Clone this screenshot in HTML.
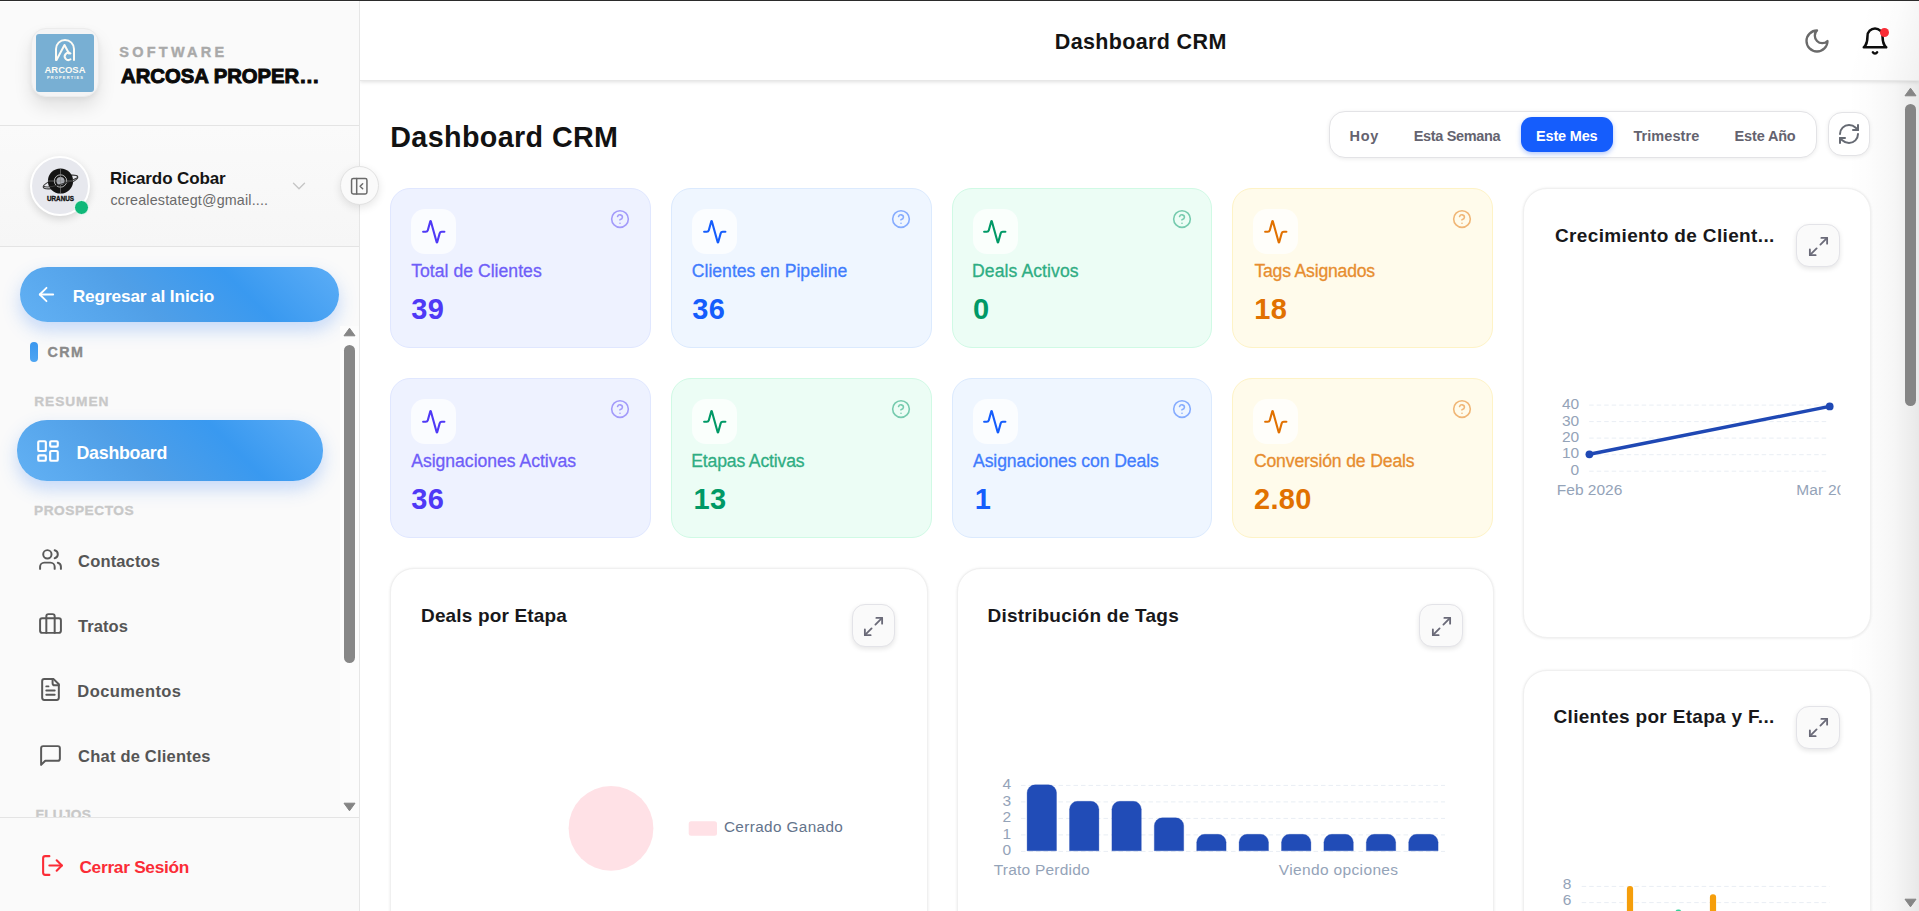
<!DOCTYPE html>
<html lang="es">
<head>
<meta charset="utf-8">
<title>Dashboard CRM</title>
<style>
*{box-sizing:border-box;margin:0;padding:0}
html,body{width:1919px;height:911px;overflow:hidden;background:#fff;font-family:"Liberation Sans",sans-serif;color:#111}
body{position:relative}
.a{position:absolute}
.t{position:absolute;white-space:nowrap;line-height:1}
svg{display:block;overflow:visible}
.ic{fill:none;stroke:currentColor;stroke-width:2;stroke-linecap:round;stroke-linejoin:round}
/* ---------- sidebar ---------- */
#side{left:0;top:1px;width:360px;height:910px;background:#fafafa;border-right:1px solid #e6e6e6}
.hr{position:absolute;left:0;width:359px;height:1px;background:#e4e4e4}
.pill{background:linear-gradient(45deg,#62b1f4 0%,#509fe7 38%,#3999f0 68%,#5cadf6 100%);box-shadow:0 8px 18px rgba(59,130,246,.28)}
.sec{font-weight:700;font-size:13px;color:#c8c8c8;-webkit-text-stroke:.35px #c8c8c8;letter-spacing:2px}
.nav{font-weight:700;font-size:17px;color:#555}
/* ---------- main ---------- */
#head{z-index:4;left:360px;top:1px;width:1559px;height:80px;background:#fff;border-bottom:1px solid #e7e7e7;box-shadow:0 1px 4px rgba(0,0,0,.13);clip-path:inset(0 0 -12px 0)}
.card{position:absolute;border-radius:20px;border:1px solid}
.c1{background:#eef2ff;border-color:#e0e7ff}
.c2{background:#eff6ff;border-color:#dbeafe}
.c3{background:#ecfdf5;border-color:#d0fae5}
.c4{background:#fffbeb;border-color:#fef3c6}
.ib{position:absolute;left:20px;top:20px;width:45px;height:45px;border-radius:14px;background:rgba(255,255,255,.72)}
.ib svg{position:absolute;left:9.75px;top:9.75px;width:25.5px;height:25.5px}
.hp{position:absolute;right:19.750px;top:20px}
.lb{-webkit-text-stroke:.3px currentColor;position:absolute;left:20px;top:72px;font-size:17px;white-space:nowrap;line-height:20px}
.nm{position:absolute;left:20px;top:105px;font-size:28px;font-weight:700;white-space:nowrap;line-height:30px}
.panel{position:absolute;background:#fff;border:1px solid #f0f0f0;border-radius:24px;box-shadow:0 0 3px rgba(0,0,0,.07),0 1px 3px rgba(0,0,0,.03)}
.pt{position:absolute;font-size:20px;font-weight:700;color:#18181b;white-space:nowrap;line-height:24px}
.xb{position:absolute;width:43.300px;height:43px;border-radius:13px;background:#fafafa;border:1px solid #e3e3e8;box-shadow:0 2px 5px rgba(0,0,0,.10);color:#6a6a78}
.xb svg{position:absolute;left:9.400px;top:9.800px;stroke-width:1.900}
.fl{top:47px;font-size:15px;font-weight:700;color:#64636f}
.ax{position:absolute;font-size:16px;color:#94a3b8;white-space:nowrap;line-height:16px}
</style>
<style id="fit">
#t_soft{left:119.30px!important;top:43.80px!important;letter-spacing:3.239px!important;font-size:14.50px!important}
#t_arc{left:120.50px!important;top:64.61px!important;letter-spacing:0.000px!important;font-size:20.70px!important;transform:scaleX(0.9793);transform-origin:0 50%}
#t_name{left:109.91px!important;top:168.91px!important;letter-spacing:-0.114px!important;font-size:17.00px!important}
#t_mail{left:110.50px!important;top:191.50px!important;letter-spacing:0.174px!important;font-size:14.30px!important}
#t_back{left:72.71px!important;top:286.50px!important;letter-spacing:-0.148px!important;font-size:17.30px!important}
#t_crm{left:47.50px!important;top:344.21px!important;letter-spacing:1.400px!important;font-size:14.30px!important}
#t_res{left:34.21px!important;top:394.00px!important;letter-spacing:0.964px!important;font-size:13.70px!important}
#t_dash{left:76.50px!important;top:444.00px!important;letter-spacing:-0.248px!important;font-size:17.80px!important}
#t_pro{left:34.00px!important;top:503.00px!important;letter-spacing:0.540px!important;font-size:13.70px!important}
#t_con{left:78.11px!important;top:551.61px!important;letter-spacing:0.150px!important;font-size:16.50px!important}
#t_tra{left:78.11px!important;top:616.61px!important;letter-spacing:0.040px!important;font-size:16.50px!important}
#t_doc{left:77.30px!important;top:681.61px!important;letter-spacing:0.420px!important;font-size:16.50px!important}
#t_chat{left:78.11px!important;top:746.61px!important;letter-spacing:0.209px!important;font-size:16.50px!important}
#t_flu{left:35.50px!important;top:7.00px!important;letter-spacing:0.280px!important;font-size:13.70px!important}
#t_out{left:79.41px!important;top:858.00px!important;letter-spacing:-0.280px!important;font-size:17.30px!important}
#t_head{left:694.80px!important;top:30.71px!important;letter-spacing:0.355px!important;font-size:21.50px!important}
#t_h1{left:30.21px!important;top:42.91px!important;letter-spacing:0.387px!important;font-size:28.70px!important}
#f1{left:989.61px!important;top:48.80px!important;letter-spacing:0.700px!important;font-size:14.50px!important}
#f2{left:1053.71px!important;top:48.80px!important;letter-spacing:-0.340px!important;font-size:14.50px!important}
#f3{left:1176.00px!important;top:48.80px!important;letter-spacing:-0.169px!important;font-size:14.50px!important}
#f4{left:1273.41px!important;top:48.80px!important;letter-spacing:0.066px!important;font-size:14.50px!important}
#f5{left:1374.61px!important;top:48.80px!important;letter-spacing:-0.169px!important;font-size:14.50px!important}
#l_1{left:20.21px!important;top:72.11px!important;letter-spacing:0.027px!important;font-size:17.60px!important}
#n_1{left:20.31px!important;top:104.80px!important;letter-spacing:0.300px!important;font-size:29.00px!important}
#l_2{left:20.05px!important;top:72.11px!important;letter-spacing:0.000px!important;font-size:17.60px!important}
#n_2{left:20.46px!important;top:104.80px!important;letter-spacing:0.300px!important;font-size:29.00px!important}
#l_3{left:19.50px!important;top:72.11px!important;letter-spacing:0.083px!important;font-size:17.60px!important}
#n_3{left:20.60px!important;top:104.80px!important;letter-spacing:0.300px!important;font-size:29.00px!important}
#l_4{left:21.16px!important;top:72.11px!important;letter-spacing:-0.191px!important;font-size:17.60px!important}
#n_4{left:21.06px!important;top:104.80px!important;letter-spacing:0.300px!important;font-size:29.00px!important}
#l_5{left:20.21px!important;top:72.11px!important;letter-spacing:-0.023px!important;font-size:17.60px!important}
#n_5{left:20.31px!important;top:104.80px!important;letter-spacing:0.300px!important;font-size:29.00px!important}
#l_6{left:19.55px!important;top:72.11px!important;letter-spacing:-0.164px!important;font-size:17.60px!important}
#n_6{left:21.76px!important;top:104.80px!important;letter-spacing:0.300px!important;font-size:29.00px!important}
#l_7{left:20.50px!important;top:72.11px!important;letter-spacing:-0.095px!important;font-size:17.60px!important}
#n_7{left:22.21px!important;top:104.80px!important;letter-spacing:0.300px!important;font-size:29.00px!important}
#l_8{left:20.66px!important;top:72.11px!important;letter-spacing:-0.144px!important;font-size:17.60px!important}
#n_8{left:20.76px!important;top:104.80px!important;letter-spacing:0.300px!important;font-size:29.00px!important}
#p1{left:30.00px!important;top:34.91px!important;letter-spacing:0.158px!important;font-size:19.00px!important}
#p2{left:29.41px!important;top:34.91px!important;letter-spacing:0.256px!important;font-size:19.00px!important}
#p3{left:31.22px!important;top:34.71px!important;letter-spacing:0.353px!important;font-size:19.00px!important}
#p4{left:29.72px!important;top:34.71px!important;letter-spacing:0.314px!important;font-size:19.00px!important}
#lg1{left:332.91px!important;top:249.71px!important;letter-spacing:0.384px!important;font-size:15.30px!important}
</style>
</head>
<body>
<!-- top window line -->
<div class="a" style="left:0;top:0;width:1919px;height:1px;background:#2b2b2b;z-index:50"></div>

<div class="a" style="left:0;top:1px;width:359px;height:1px;background:#fff;z-index:3"></div>
<!-- ================= SIDEBAR ================= -->
<div id="side" class="a">
<!-- logo -->
<div class="a" style="left:31px;top:27px;width:68px;height:69px;border-radius:15px;background:#f4f4f5;border:1px solid #ececec;box-shadow:0 10px 18px rgba(0,0,0,.10),0 2px 5px rgba(0,0,0,.05)">
<svg class="a" style="left:4px;top:5px" width="58" height="58" viewBox="0 0 58 58">
<rect width="58" height="58" rx="3" fill="#78afd3"/>
<g fill="none" stroke="#fdfbf4" stroke-width="2" stroke-linecap="round" stroke-linejoin="round">
<path d="M20 26V15a9 9 0 0 1 18 0v11"/>
<path d="M20.5 26l8-15 4.500 8.500"/>
<path d="M34.500 19.500a3.600 3.600 0 1 0 0 5.800"/>
</g>
<text x="29" y="39.200" text-anchor="middle" font-family="Liberation Sans, sans-serif" font-weight="700" font-size="8.700" fill="#fdfbf4" textLength="41" lengthAdjust="spacingAndGlyphs">ARCOSA</text>
<text x="29" y="44.600" text-anchor="middle" font-family="Liberation Sans, sans-serif" font-weight="700" font-size="4" fill="#fdfbf4" textLength="36" lengthAdjust="spacing">PROPERTIES</text>
</svg>
</div>
<div id="t_soft" class="t" style="left:120px;top:43px;font-size:14px;font-weight:700;color:#a9a9a9;-webkit-text-stroke:.4px #a9a9a9;letter-spacing:3.500px">SOFTWARE</div>
<div id="t_arc" class="t" style="left:120px;top:63px;font-size:21.500px;font-weight:700;color:#0a0a0a;-webkit-text-stroke:1px #0a0a0a">ARCOSA PROPER…</div>
<div class="hr" style="top:124px"></div>

<!-- user -->
<div class="a" style="left:0;top:125px;width:359px;height:120px;background:linear-gradient(180deg,#fafafa,#f6f6f6)"></div>
<div class="a" style="left:30px;top:155px;width:60px;height:60px;border-radius:50%;background:#e7e8ee;border:2px solid #fff;box-shadow:0 3px 8px rgba(0,0,0,.14)">
<svg class="a" style="left:1px;top:1px" width="54" height="54" viewBox="0 0 54 54">
<ellipse cx="27.500" cy="23" rx="18" ry="4.600" transform="rotate(-17 27.500 23)" fill="none" stroke="#3a3a3a" stroke-width="1.100"/>
<circle cx="27.500" cy="22" r="12.600" fill="#141414"/>
<circle cx="27.500" cy="22" r="6.200" fill="none" stroke="#d8d8d8" stroke-width=".8"/>
<circle cx="27.500" cy="22" r="4" fill="#a9abb3"/>
<path d="M27.500 9.500v25M15 22h25" stroke="#8a8a8a" stroke-width=".6"/>
<path d="M10.500 27.300c5 2.600 24 -3 34.500 -8.800" fill="none" stroke="#3a3a3a" stroke-width="1.100"/>
<text x="27.500" y="42.200" text-anchor="middle" font-family="Liberation Sans, sans-serif" font-weight="700" font-size="6.600" fill="#141414" stroke="#141414" stroke-width=".35" textLength="27" lengthAdjust="spacingAndGlyphs">URANUS</text>
</svg>
</div>
<div class="a" style="left:74px;top:199px;width:15px;height:15px;border-radius:50%;background:#0fb879;border:1px solid #f2fbf7"></div>
<div id="t_name" class="t" style="left:110px;top:168px;font-size:18px;font-weight:700;color:#141414">Ricardo Cobar</div>
<div id="t_mail" class="t" style="left:110px;top:191px;font-size:14px;color:#6a6a6a">ccrealestategt@gmail....</div>
<svg class="a ic" style="left:288.1px;top:174.0px;color:#c6c6c6;stroke-width:1.500" width="22" height="22" viewBox="0 0 24 24"><path d="m6 9 6 6 6-6"/></svg>
<div class="hr" style="top:245px"></div>

<!-- back button -->
<div class="a pill" style="left:20px;top:266px;width:319px;height:55px;border-radius:28px"></div>
<svg class="a ic" style="left:34.9px;top:281.9px;color:#fff;stroke-width:1.900" width="23" height="23" viewBox="0 0 24 24"><path d="m12 19-7-7 7-7"/><path d="M19 12H5"/></svg>
<div id="t_back" class="t" style="left:73px;top:285px;font-size:17px;font-weight:700;color:#fff">Regresar al Inicio</div>

<!-- nav -->
<div class="a" style="left:30px;top:341px;width:8px;height:20px;border-radius:4px;background:linear-gradient(180deg,#3a97ef,#4ea5f2)"></div>
<div id="t_crm" class="t" style="left:47px;top:344px;font-size:14px;font-weight:700;color:#8a8a8a;-webkit-text-stroke:.35px #8a8a8a;letter-spacing:2.500px">CRM</div>
<div id="t_res" class="t sec" style="left:35px;top:394px">RESUMEN</div>
<div class="a pill" style="left:17px;top:419px;width:306px;height:61px;border-radius:30px"></div>
<svg class="a ic" style="left:35.250px;top:437.100px;color:#fff" width="26" height="26" viewBox="0 0 24 24"><rect width="7" height="9" x="3" y="3" rx="1"/><rect width="7" height="5" x="14" y="3" rx="1"/><rect width="7" height="9" x="14" y="12" rx="1"/><rect width="7" height="5" x="3" y="16" rx="1"/></svg>
<div id="t_dash" class="t" style="left:76px;top:442px;font-size:18px;font-weight:700;color:#fff">Dashboard</div>
<div id="t_pro" class="t sec" style="left:35px;top:503px">PROSPECTOS</div>

<svg class="a ic" style="left:37.900px;top:545.9px;color:#595959;stroke-width:1.900" width="25" height="25" viewBox="0 0 24 24"><path d="M16 21v-2a4 4 0 0 0-4-4H6a4 4 0 0 0-4 4v2"/><circle cx="9" cy="7" r="4"/><path d="M22 21v-2a4 4 0 0 0-3-3.870"/><path d="M16 3.130a4 4 0 0 1 0 7.750"/></svg>
<div id="t_con" class="t nav" style="left:78px;top:550px">Contactos</div>
<svg class="a ic" style="left:37.900px;top:610.0px;color:#595959;stroke-width:1.900" width="25" height="25" viewBox="0 0 24 24"><rect width="20" height="14" x="2" y="7" rx="2"/><path d="M16 21V5a2 2 0 0 0-2-2h-4a2 2 0 0 0-2 2v16"/></svg>
<div id="t_tra" class="t nav" style="left:78px;top:615px">Tratos</div>
<svg class="a ic" style="left:37.900px;top:676.0px;color:#595959;stroke-width:1.900" width="25" height="25" viewBox="0 0 24 24"><path d="M15 2H6a2 2 0 0 0-2 2v16a2 2 0 0 0 2 2h12a2 2 0 0 0 2-2V7Z"/><path d="M14 2v4a2 2 0 0 0 2 2h4"/><path d="M10 9H8"/><path d="M16 13H8"/><path d="M16 17H8"/></svg>
<div id="t_doc" class="t nav" style="left:78px;top:680px">Documentos</div>
<svg class="a ic" style="left:37.900px;top:741.5px;color:#595959;stroke-width:1.900" width="25" height="25" viewBox="0 0 24 24"><path d="M21 15a2 2 0 0 1-2 2H7l-4 4V5a2 2 0 0 1 2-2h14a2 2 0 0 1 2 2z"/></svg>
<div id="t_chat" class="t nav" style="left:78px;top:745px">Chat de Clientes</div>
<div class="a" style="left:0;top:800px;width:340px;height:16px;overflow:hidden"><div id="t_flu" class="t sec" style="left:35px;top:7px">FLUJOS</div></div>

<!-- sidebar scrollbar -->
<div class="a" style="left:340px;top:325px;width:19px;height:491px;background:#fcfcfc"></div>
<svg class="a" style="left:343px;top:326px" width="13" height="10" viewBox="0 0 13 10"><path d="M6.500 1.200 12 8.800H1z" fill="#858585" stroke="#858585" stroke-width="1" stroke-linejoin="round"/></svg>
<div class="a" style="left:344px;top:344px;width:11px;height:318px;border-radius:6px;background:#878787"></div>
<svg class="a" style="left:343px;top:801px" width="13" height="10" viewBox="0 0 13 10"><path d="M6.500 8.800 12 1.200H1z" fill="#858585" stroke="#858585" stroke-width="1" stroke-linejoin="round"/></svg>

<!-- logout -->
<div class="hr" style="top:816px"></div>
<svg class="a ic" style="left:40px;top:851.9px;color:#fb2c36" width="25" height="25" viewBox="0 0 24 24"><path d="M9 21H5a2 2 0 0 1-2-2V5a2 2 0 0 1 2-2h4"/><polyline points="16 17 21 12 16 7"/><line x1="21" x2="9" y1="12" y2="12"/></svg>
<div id="t_out" class="t" style="left:80px;top:856px;font-size:17px;font-weight:700;color:#fb2c36">Cerrar Sesión</div>
</div>

<!-- ================= HEADER ================= -->
<div id="head" class="a">
<div id="t_head" class="t" style="left:695px;top:29px;font-size:22px;font-weight:700;color:#141414">Dashboard CRM</div>
<svg class="a ic" style="left:1442.500px;top:25.500px;color:#6a6a6a" width="28" height="28" viewBox="0 0 24 24"><path d="M12 3a6 6 0 0 0 9 9 9 9 0 1 1-9-9Z"/></svg>
<svg class="a ic" style="left:1500.200px;top:25px;color:#0c0c0c" width="30" height="30" viewBox="0 0 24 24"><path d="M6 8a6 6 0 0 1 12 0c0 7 3 9 3 9H3s3-2 3-9"/><path d="M10.300 21a1.940 1.940 0 0 0 3.400 0"/></svg>
<div class="a" style="left:1519.500px;top:26.500px;width:9px;height:9px;border-radius:50%;background:#fb2c36"></div>
</div>

<!-- ================= CONTENT ================= -->
<div id="main" class="a" style="left:360px;top:80px;width:1559px;height:831px;overflow:hidden">
<div class="a" style="left:1488px;top:0;width:71px;height:831px;background:linear-gradient(90deg,rgba(0,0,0,0) 0%,rgba(0,0,0,.01) 31%,rgba(0,0,0,.035) 65%,rgba(0,0,0,.09) 100%)"></div>
<div id="t_h1" class="t" style="left:31px;top:41px;font-size:30px;font-weight:700;color:#121212">Dashboard CRM</div>
<!-- filter -->
<div class="a" style="left:969px;top:31px;width:488px;height:47px;border-radius:16px;background:#fff;border:1px solid #e3e3e6;box-shadow:0 1px 4px rgba(0,0,0,.08)"></div>
<div class="a" style="left:1161px;top:37px;width:92px;height:35px;border-radius:11px;background:#155dfc;box-shadow:0 2px 5px rgba(29,92,243,.35)"></div>
<div id="f1" class="t fl" style="left:989px">Hoy</div>
<div id="f2" class="t fl" style="left:1053px">Esta Semana</div>
<div id="f3" class="t fl" style="left:1177px;color:#fff">Este Mes</div>
<div id="f4" class="t fl" style="left:1273px">Trimestre</div>
<div id="f5" class="t fl" style="left:1374px">Este Año</div>
<div class="a" style="left:1467.600px;top:32.300px;width:42.800px;height:43.800px;border-radius:14px;background:#fff;border:1px solid #e3e3e6;box-shadow:0 1px 4px rgba(0,0,0,.08);color:#666a73"><svg class="a ic" style="left:8.700px;top:8.900px" width="24" height="24" viewBox="0 0 24 24"><path d="M3 12a9 9 0 0 1 9-9 9.750 9.750 0 0 1 6.740 2.740L21 8"/><path d="M21 3v5h-5"/><path d="M21 12a9 9 0 0 1-9 9 9.750 9.750 0 0 1-6.740-2.740L3 16"/><path d="M8 16H3v5"/></svg></div>
<div class="card c1" style="left:30px;top:108px;width:260.750px;height:160px">
<div class="ib"><svg class="ic" style="color:#4f39f6" width="24" height="24" viewBox="0 0 24 24"><path d="M22 12h-2.480a2 2 0 0 0-1.930 1.460l-2.350 8.360a.25.25 0 0 1-.48 0L9.240 2.180a.25.25 0 0 0-.48 0l-2.350 8.360A2 2 0 0 1 4.490 12H2"/></svg></div>
<svg class="hp ic" style="stroke-width:1.900;color:#a39bfa" width="20" height="20" viewBox="0 0 24 24"><circle cx="12" cy="12" r="10"/><path d="M9.090 9a3 3 0 0 1 5.830 1c0 2-3 3-3 3"/><path d="M12 17h.01"/></svg>
<div id="l_1" class="lb" style="color:#6f5ef8">Total de Clientes</div>
<div id="n_1" class="nm" style="color:#4f39f6">39</div>
</div>
<div class="card c2" style="left:310.75px;top:108px;width:260.750px;height:160px">
<div class="ib"><svg class="ic" style="color:#155dfc" width="24" height="24" viewBox="0 0 24 24"><path d="M22 12h-2.480a2 2 0 0 0-1.930 1.460l-2.350 8.360a.25.25 0 0 1-.48 0L9.240 2.180a.25.25 0 0 0-.48 0l-2.350 8.360A2 2 0 0 1 4.490 12H2"/></svg></div>
<svg class="hp ic" style="stroke-width:1.900;color:#86acfe" width="20" height="20" viewBox="0 0 24 24"><circle cx="12" cy="12" r="10"/><path d="M9.090 9a3 3 0 0 1 5.830 1c0 2-3 3-3 3"/><path d="M12 17h.01"/></svg>
<div id="l_2" class="lb" style="color:#417cfd">Clientes en Pipeline</div>
<div id="n_2" class="nm" style="color:#155dfc">36</div>
</div>
<div class="card c3" style="left:591.5px;top:108px;width:260.750px;height:160px">
<div class="ib"><svg class="ic" style="color:#009966" width="24" height="24" viewBox="0 0 24 24"><path d="M22 12h-2.480a2 2 0 0 0-1.930 1.460l-2.350 8.360a.25.25 0 0 1-.48 0L9.240 2.180a.25.25 0 0 0-.48 0l-2.350 8.360A2 2 0 0 1 4.490 12H2"/></svg></div>
<svg class="hp ic" style="stroke-width:1.900;color:#76cbae" width="20" height="20" viewBox="0 0 24 24"><circle cx="12" cy="12" r="10"/><path d="M9.090 9a3 3 0 0 1 5.830 1c0 2-3 3-3 3"/><path d="M12 17h.01"/></svg>
<div id="l_3" class="lb" style="color:#2fad83">Deals Activos</div>
<div id="n_3" class="nm" style="color:#009966">0</div>
</div>
<div class="card c4" style="left:872.25px;top:108px;width:260.750px;height:160px">
<div class="ib"><svg class="ic" style="color:#e17100" width="24" height="24" viewBox="0 0 24 24"><path d="M22 12h-2.480a2 2 0 0 0-1.930 1.460l-2.350 8.360a.25.25 0 0 1-.48 0L9.240 2.180a.25.25 0 0 0-.48 0l-2.350 8.360A2 2 0 0 1 4.490 12H2"/></svg></div>
<svg class="hp ic" style="stroke-width:1.900;color:#f0b676" width="20" height="20" viewBox="0 0 24 24"><circle cx="12" cy="12" r="10"/><path d="M9.090 9a3 3 0 0 1 5.830 1c0 2-3 3-3 3"/><path d="M12 17h.01"/></svg>
<div id="l_4" class="lb" style="color:#e78d2f">Tags Asignados</div>
<div id="n_4" class="nm" style="color:#e17100">18</div>
</div>
<div class="card c1" style="left:30px;top:298px;width:260.750px;height:160px">
<div class="ib"><svg class="ic" style="color:#4f39f6" width="24" height="24" viewBox="0 0 24 24"><path d="M22 12h-2.480a2 2 0 0 0-1.930 1.460l-2.350 8.360a.25.25 0 0 1-.48 0L9.240 2.180a.25.25 0 0 0-.48 0l-2.350 8.360A2 2 0 0 1 4.490 12H2"/></svg></div>
<svg class="hp ic" style="stroke-width:1.900;color:#a39bfa" width="20" height="20" viewBox="0 0 24 24"><circle cx="12" cy="12" r="10"/><path d="M9.090 9a3 3 0 0 1 5.830 1c0 2-3 3-3 3"/><path d="M12 17h.01"/></svg>
<div id="l_5" class="lb" style="color:#6f5ef8">Asignaciones Activas</div>
<div id="n_5" class="nm" style="color:#4f39f6">36</div>
</div>
<div class="card c3" style="left:310.75px;top:298px;width:260.750px;height:160px">
<div class="ib"><svg class="ic" style="color:#009966" width="24" height="24" viewBox="0 0 24 24"><path d="M22 12h-2.480a2 2 0 0 0-1.930 1.460l-2.350 8.360a.25.25 0 0 1-.48 0L9.240 2.180a.25.25 0 0 0-.48 0l-2.350 8.360A2 2 0 0 1 4.490 12H2"/></svg></div>
<svg class="hp ic" style="stroke-width:1.900;color:#76cbae" width="20" height="20" viewBox="0 0 24 24"><circle cx="12" cy="12" r="10"/><path d="M9.090 9a3 3 0 0 1 5.830 1c0 2-3 3-3 3"/><path d="M12 17h.01"/></svg>
<div id="l_6" class="lb" style="color:#2fad83">Etapas Activas</div>
<div id="n_6" class="nm" style="color:#009966">13</div>
</div>
<div class="card c2" style="left:591.5px;top:298px;width:260.750px;height:160px">
<div class="ib"><svg class="ic" style="color:#155dfc" width="24" height="24" viewBox="0 0 24 24"><path d="M22 12h-2.480a2 2 0 0 0-1.930 1.460l-2.350 8.360a.25.25 0 0 1-.48 0L9.240 2.180a.25.25 0 0 0-.48 0l-2.350 8.360A2 2 0 0 1 4.490 12H2"/></svg></div>
<svg class="hp ic" style="stroke-width:1.900;color:#86acfe" width="20" height="20" viewBox="0 0 24 24"><circle cx="12" cy="12" r="10"/><path d="M9.090 9a3 3 0 0 1 5.830 1c0 2-3 3-3 3"/><path d="M12 17h.01"/></svg>
<div id="l_7" class="lb" style="color:#417cfd">Asignaciones con Deals</div>
<div id="n_7" class="nm" style="color:#155dfc">1</div>
</div>
<div class="card c4" style="left:872.25px;top:298px;width:260.750px;height:160px">
<div class="ib"><svg class="ic" style="color:#e17100" width="24" height="24" viewBox="0 0 24 24"><path d="M22 12h-2.480a2 2 0 0 0-1.930 1.460l-2.350 8.360a.25.25 0 0 1-.48 0L9.240 2.180a.25.25 0 0 0-.48 0l-2.350 8.360A2 2 0 0 1 4.490 12H2"/></svg></div>
<svg class="hp ic" style="stroke-width:1.900;color:#f0b676" width="20" height="20" viewBox="0 0 24 24"><circle cx="12" cy="12" r="10"/><path d="M9.090 9a3 3 0 0 1 5.830 1c0 2-3 3-3 3"/><path d="M12 17h.01"/></svg>
<div id="l_8" class="lb" style="color:#e78d2f">Conversión de Deals</div>
<div id="n_8" class="nm" style="color:#e17100">2.80</div>
</div>

<!-- Deals por Etapa -->
<div class="panel" style="left:30px;top:488px;width:537.500px;height:420px">
<div id="p1" class="pt" style="left:31px;top:35px">Deals por Etapa</div>
<div class="xb" style="left:460.900px;top:35.200px"><svg class="ic" width="23" height="23" viewBox="0 0 24 24"><polyline points="15 3 21 3 21 9"/><polyline points="9 21 3 21 3 15"/><line x1="21" x2="14" y1="3" y2="10"/><line x1="3" x2="10" y1="21" y2="14"/></svg></div>
<svg class="a" style="left:0;top:0" width="536" height="400"><circle cx="220" cy="259.300" r="42.400" fill="#ffe1e6"/><rect x="297.700" y="252.300" width="28.300" height="14.500" rx="2.500" fill="#ffe1e6"/></svg>
<div id="lg1" class="ax" style="left:333px;top:250px;color:#64748b">Cerrado Ganado</div>
</div>
<!-- Distribucion de Tags -->
<div class="panel" style="left:597px;top:488px;width:536.500px;height:420px">
<div id="p2" class="pt" style="left:30.500px;top:35px">Distribución de Tags</div>
<div class="xb" style="left:461.300px;top:35.400px"><svg class="ic" width="23" height="23" viewBox="0 0 24 24"><polyline points="15 3 21 3 21 9"/><polyline points="9 21 3 21 3 15"/><line x1="21" x2="14" y1="3" y2="10"/><line x1="3" x2="10" y1="21" y2="14"/></svg></div>
<svg class="a" style="left:0;top:0" width="535" height="400" id="bars"><g stroke="#e9eef4" stroke-width="1" stroke-dasharray="4.500 3"><line x1="63" x2="487" y1="216.4" y2="216.4"/><line x1="63" x2="487" y1="232.9" y2="232.9"/><line x1="63" x2="487" y1="249.4" y2="249.4"/><line x1="63" x2="487" y1="265.9" y2="265.9"/><line x1="63" x2="487" y1="282.4" y2="282.4"/></g><g fill="#214cb7" stroke="#1a44b0" stroke-width=".3"><path d="M69.1 281.8V223.8a8 8 0 0 1 8 -8h13.4a8 8 0 0 1 8 8V281.8z"/><path d="M111.5 281.8V240.3a8 8 0 0 1 8 -8h13.4a8 8 0 0 1 8 8V281.8z"/><path d="M153.9 281.8V240.3a8 8 0 0 1 8 -8h13.4a8 8 0 0 1 8 8V281.8z"/><path d="M196.3 281.8V256.8a8 8 0 0 1 8 -8h13.4a8 8 0 0 1 8 8V281.8z"/><path d="M238.7 281.8V273.3a8 8 0 0 1 8 -8h13.4a8 8 0 0 1 8 8V281.8z"/><path d="M281.1 281.8V273.3a8 8 0 0 1 8 -8h13.4a8 8 0 0 1 8 8V281.8z"/><path d="M323.5 281.8V273.3a8 8 0 0 1 8 -8h13.4a8 8 0 0 1 8 8V281.8z"/><path d="M365.9 281.8V273.3a8 8 0 0 1 8 -8h13.4a8 8 0 0 1 8 8V281.8z"/><path d="M408.3 281.8V273.3a8 8 0 0 1 8 -8h13.4a8 8 0 0 1 8 8V281.8z"/><path d="M450.7 281.8V273.3a8 8 0 0 1 8 -8h13.4a8 8 0 0 1 8 8V281.8z"/></g><text x="53" y="220.0" text-anchor="end" font-family="Liberation Sans, sans-serif" font-size="15.500" fill="#94a3b8">4</text><text x="53" y="236.5" text-anchor="end" font-family="Liberation Sans, sans-serif" font-size="15.500" fill="#94a3b8">3</text><text x="53" y="253.0" text-anchor="end" font-family="Liberation Sans, sans-serif" font-size="15.500" fill="#94a3b8">2</text><text x="53" y="269.5" text-anchor="end" font-family="Liberation Sans, sans-serif" font-size="15.500" fill="#94a3b8">1</text><text x="53" y="286.0" text-anchor="end" font-family="Liberation Sans, sans-serif" font-size="15.500" fill="#94a3b8">0</text><text id="bx1" letter-spacing=".22" x="83.8" y="305.8" text-anchor="middle" font-family="Liberation Sans, sans-serif" font-size="15.500" fill="#94a3b8">Trato Perdido</text><text id="bx2" letter-spacing=".36" x="380.6" y="305.8" text-anchor="middle" font-family="Liberation Sans, sans-serif" font-size="15.500" fill="#94a3b8">Viendo opciones</text></svg>
</div>
<!-- Crecimiento -->
<div class="panel" style="left:1162.800px;top:108px;width:348.100px;height:450px">
<div id="p3" class="pt" style="left:31px;top:35px">Crecimiento de Client...</div>
<div class="xb" style="left:272.700px;top:35.200px"><svg class="ic" width="23" height="23" viewBox="0 0 24 24"><polyline points="15 3 21 3 21 9"/><polyline points="9 21 3 21 3 15"/><line x1="21" x2="14" y1="3" y2="10"/><line x1="3" x2="10" y1="21" y2="14"/></svg></div>
<svg class="a" style="left:-.8px;top:0" width="346" height="448" id="line"><defs><clipPath id="cl"><rect x="20" y="0" width="297.5" height="448"/></clipPath></defs><g clip-path="url(#cl)"><g stroke="#e9eef4" stroke-width="1" stroke-dasharray="4.500 3"><line x1="66.2" x2="305.2" y1="216.1" y2="216.1"/><line x1="66.2" x2="305.2" y1="232.6" y2="232.6"/><line x1="66.2" x2="305.2" y1="249.1" y2="249.1"/><line x1="66.2" x2="305.2" y1="265.7" y2="265.7"/><line x1="66.2" x2="305.2" y1="282.2" y2="282.2"/></g><line x1="66.4" y1="265.3" x2="306.7" y2="217.4" stroke="#1f48b4" stroke-width="3.500" stroke-linecap="round"/><circle cx="66.4" cy="265.3" r="3.900" fill="#1f48b4"/><circle cx="306.7" cy="217.4" r="3.900" fill="#1f48b4"/><text x="56.2" y="220.1" text-anchor="end" font-family="Liberation Sans, sans-serif" font-size="15.500" fill="#94a3b8">40</text><text x="56.2" y="236.5" text-anchor="end" font-family="Liberation Sans, sans-serif" font-size="15.500" fill="#94a3b8">30</text><text x="56.2" y="252.9" text-anchor="end" font-family="Liberation Sans, sans-serif" font-size="15.500" fill="#94a3b8">20</text><text x="56.2" y="269.3" text-anchor="end" font-family="Liberation Sans, sans-serif" font-size="15.500" fill="#94a3b8">10</text><text x="56.2" y="285.8" text-anchor="end" font-family="Liberation Sans, sans-serif" font-size="15.500" fill="#94a3b8">0</text><text id="lx1" x="66.6" y="305.7" text-anchor="middle" font-family="Liberation Sans, sans-serif" font-size="15.500" fill="#94a3b8">Feb 2026</text><text id="lx2" letter-spacing=".2" x="306.7" y="305.7" text-anchor="middle" font-family="Liberation Sans, sans-serif" font-size="15.500" fill="#94a3b8">Mar 2026</text></g></svg>
</div>
<!-- Clientes por Etapa y Fuente -->
<div class="panel" style="left:1162.800px;top:589.500px;width:348.100px;height:420px">
<div id="p4" class="pt" style="left:31px;top:35px">Clientes por Etapa y F...</div>
<div class="xb" style="left:272.700px;top:35.200px"><svg class="ic" width="23" height="23" viewBox="0 0 24 24"><polyline points="15 3 21 3 21 9"/><polyline points="9 21 3 21 3 15"/><line x1="21" x2="14" y1="3" y2="10"/><line x1="3" x2="10" y1="21" y2="14"/></svg></div>
<svg class="a" style="left:-.8px;top:-1px" width="346" height="330" id="stk"><g stroke="#e9eef4" stroke-width="1" stroke-dasharray="4.500 3"><line x1="58.7" x2="306.6" y1="216.4" y2="216.4"/><line x1="58.7" x2="306.6" y1="232.6" y2="232.6"/></g><path fill="#f59e0b" d="M103.9 300V219.0a3 3 0 0 1 3 -3h0.2a3 3 0 0 1 3 3V300z"/><path fill="#f59e0b" d="M186.9 300V227.2a3 3 0 0 1 3 -3h0.2a3 3 0 0 1 3 3V300z"/><path fill="#34d399" d="M152.3 300V242.6a3 3 0 0 1 3 -3h0.2a3 3 0 0 1 3 3V300z"/><text x="48.4" y="218.6" text-anchor="end" font-family="Liberation Sans, sans-serif" font-size="15.500" fill="#94a3b8">8</text><text x="48.4" y="235.0" text-anchor="end" font-family="Liberation Sans, sans-serif" font-size="15.500" fill="#94a3b8">6</text></svg>
</div>
<!-- right shade + scrollbar -->
<svg class="a" style="left:1544px;top:7px" width="13" height="10" viewBox="0 0 13 10"><path d="M6.500 1.200 12 8.800H1z" fill="#858585" stroke="#858585" stroke-width="1" stroke-linejoin="round"/></svg>
<div class="a" style="left:1545px;top:24px;width:11px;height:302px;border-radius:6px;background:#858585"></div>
<svg class="a" style="left:1544px;top:818px" width="13" height="10" viewBox="0 0 13 10"><path d="M6.500 8.800 12 1.200H1z" fill="#858585" stroke="#858585" stroke-width="1" stroke-linejoin="round"/></svg>
</div>
<!-- collapse button -->
<div class="a" style="left:339.700px;top:166.200px;width:39px;height:39px;border-radius:50%;background:#fafafa;border:1px solid #e2e2e2;box-shadow:0 3px 8px rgba(0,0,0,.10);z-index:6;color:#6a6a6a"><svg class="a ic" style="left:8.100px;top:8.500px;stroke-width:1.750" width="20.500" height="20.500" viewBox="0 0 24 24"><rect width="18" height="18" x="3" y="3" rx="2"/><path d="M9 3v18"/><path d="m16 15-3-3 3-3"/></svg></div>
<!-- right edge shade -->
<div class="a" style="left:1840px;top:1px;width:79px;height:79px;background:linear-gradient(105deg,rgba(0,0,0,0) 25%,rgba(0,0,0,.012) 60%,rgba(0,0,0,.055) 100%);z-index:5;pointer-events:none"></div>
</body>
</html>
